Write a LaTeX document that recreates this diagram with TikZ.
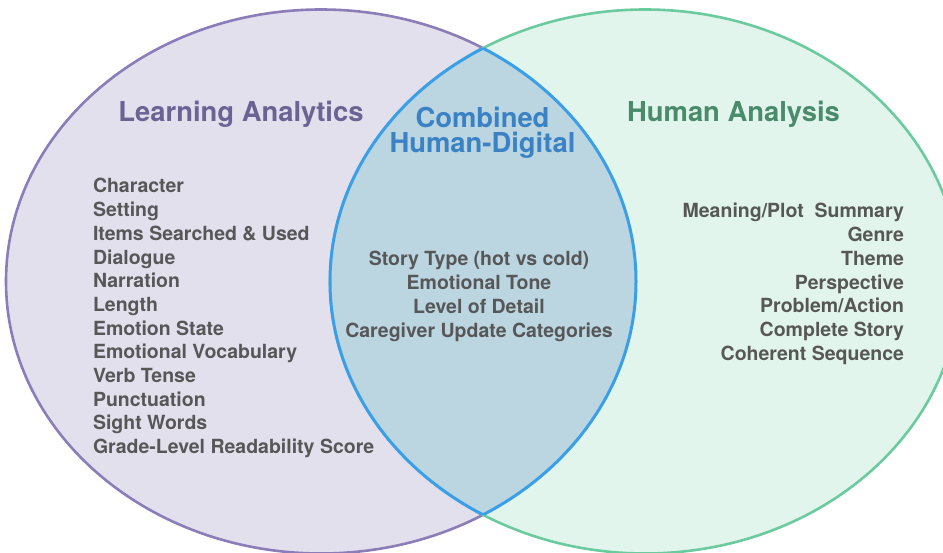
\documentclass[tikz,border=0pt]{standalone}
\usepackage{fontspec}
\setmainfont{TeX Gyre Heros}
\usepackage{tikz}
\usetikzlibrary{positioning}

\definecolor{lafill}{HTML}{E3E0EE}
\definecolor{ladraw}{HTML}{8A7DB8}
\definecolor{hafill}{HTML}{E1F5EC}
\definecolor{hadraw}{HTML}{6CCB9E}
\definecolor{cbfill}{HTML}{BBD5E1}
\definecolor{cbdraw}{HTML}{3B9FE8}
\definecolor{latext}{HTML}{6B6393}
\definecolor{hatext}{HTML}{4A8B6B}
\definecolor{cbtext}{HTML}{3B82C4}
\definecolor{itemtext}{HTML}{575757}

\begin{document}
\begin{tikzpicture}[x=0.5pt, y=0.5pt, line width=1.3pt]

	\tikzset{
		title/.style={
				font=\fontsize{13.7}{12.5}\selectfont\bfseries, inner sep=0pt, outer sep=0pt
			},
		item/.style={
				font=\fontsize{9.75}{11.85}\selectfont\bfseries, text=itemtext, inner sep=0pt, outer sep=0pt,
				text height=8.6pt, text depth=3.25pt
			},
	}

	\useasboundingbox (0,0) rectangle (943,552);
	\clip (0,0) rectangle (943,552);

	% the two sets
	\filldraw[fill=lafill, draw=ladraw] (321,270.5) ellipse [x radius=315, y radius=272];
	\filldraw[fill=hafill, draw=hadraw] (645,270.5) ellipse [x radius=315, y radius=272];

	% overlap of both sets
	\begin{scope}
		\clip (321,270.5) ellipse [x radius=315, y radius=272];
		\fill[cbfill] (645,270.5) ellipse [x radius=315, y radius=272];
		\draw[cbdraw, line width=1.5pt] (645,270.5) ellipse [x radius=315, y radius=272];
	\end{scope}
	\begin{scope}
		\clip (645,270.5) ellipse [x radius=315, y radius=272];
		\draw[cbdraw, line width=1.5pt] (321,270.5) ellipse [x radius=315, y radius=272];
	\end{scope}

	% titles
	\node[title, text=latext, anchor=base] (la) at (241,430) {Learning Analytics};
	\node[title, text=hatext, anchor=base] (ha) at (733.5,430) {Human Analysis};
	\node[title, text=cbtext, anchor=base] (cb1) at (482.5,424) {Combined};
	\node[title, text=cbtext, anchor=base] (cb2) at ([yshift=-12.5pt]cb1.base) {Human-Digital};

	% learning analytics list
	\node[item, anchor=base west] (la1) at (93,359) {Character};
	\node[item, below=0pt of la1.south west, anchor=north west] (la2) {Setting};
	\node[item, below=0pt of la2.south west, anchor=north west] (la3) {Items Searched \& Used};
	\node[item, below=0pt of la3.south west, anchor=north west] (la4) {Dialogue};
	\node[item, below=0pt of la4.south west, anchor=north west] (la5) {Narration};
	\node[item, below=0pt of la5.south west, anchor=north west] (la6) {Length};
	\node[item, below=0pt of la6.south west, anchor=north west] (la7) {Emotion State};
	\node[item, below=0pt of la7.south west, anchor=north west] (la8) {Emotional Vocabulary};
	\node[item, below=0pt of la8.south west, anchor=north west] (la9) {Verb Tense};
	\node[item, below=0pt of la9.south west, anchor=north west] (la10) {Punctuation};
	\node[item, below=0pt of la10.south west, anchor=north west] (la11) {Sight Words};
	\node[item, below=0pt of la11.south west, anchor=north west] (la12) {Grade-Level Readability Score};

	% combined list
	\node[item, anchor=base] (cb3) at (479,286) {Story Type (hot vs cold)};
	\node[item, below=0pt of cb3] (cb4) {Emotional Tone};
	\node[item, below=0pt of cb4] (cb5) {Level of Detail};
	\node[item, below=0pt of cb5] (cb6) {Caregiver Update Categories};

	% human analysis list
	\node[item, anchor=base east] (ha1) at (904,334) {Meaning/Plot\ \ Summary};
	\node[item, below=0pt of ha1.south east, anchor=north east] (ha2) {Genre};
	\node[item, below=0pt of ha2.south east, anchor=north east] (ha3) {Theme};
	\node[item, below=0pt of ha3.south east, anchor=north east] (ha4) {Perspective};
	\node[item, below=0pt of ha4.south east, anchor=north east] (ha5) {Problem/Action};
	\node[item, below=0pt of ha5.south east, anchor=north east] (ha6) {Complete Story};
	\node[item, below=0pt of ha6.south east, anchor=north east] (ha7) {Coherent Sequence};

\end{tikzpicture}
\end{document}
